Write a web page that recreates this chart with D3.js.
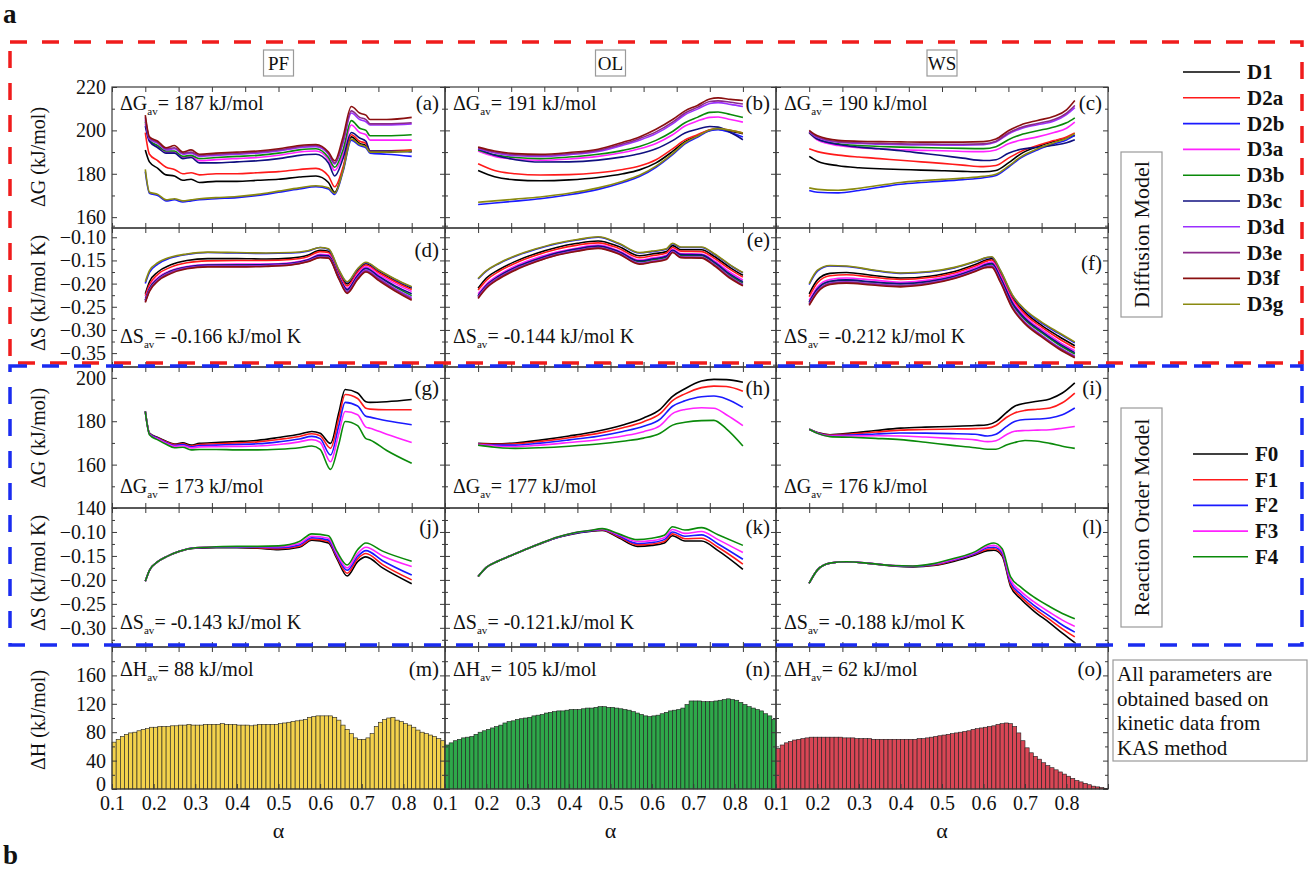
<!DOCTYPE html>
<html>
<head>
<meta charset="utf-8">
<script src="https://cdn.jsdelivr.net/npm/d3@7"></script>
<style>
  body { margin: 0; background: #fff; }
  svg { font-family: "Liberation Serif", "Times New Roman", serif; }
</style>
</head>
<body>
<svg id="fig" width="1312" height="873"></svg>
<script>
/*** DATA ***/
const samples = ["PF", "OL", "WS"];
const diffModels = ["D1", "D2a", "D2b", "D3a", "D3b", "D3c", "D3d", "D3e", "D3f", "D3g"];
const reactModels = ["F0", "F1", "F2", "F3", "F4"];

const dGavDiff = ["187", "191", "190"];
const dSavDiff = ["-0.166", "-0.144", "-0.212"];
const dGavReact = ["173", "177", "176"];
const dSavReact = ["-0.143", "-0.121.", "-0.188"];
const dHav = ["88", "105", "62"];

const xTickLabels = [0.1, 0.2, 0.3, 0.4, 0.5, 0.6, 0.7, 0.8];
const topTicks = [0.10, 0.18, 0.26, 0.34, 0.42, 0.50, 0.58, 0.66, 0.74, 0.82, 0.90];

/* (a) PF, dG, diffusion models: rows follow diffModels */
const alphaA = [0.18,0.19,0.21,0.23,0.25,0.27,0.29,0.31,0.35,0.40,0.45,0.50,0.55,0.59,0.62,0.635,0.655,0.675,0.695,0.71,0.72,0.76,0.82];
const dG_PF_D = [
  [191,185.5,182.5,179.5,179,177,177.5,176,176.5,176.5,177,177.5,178.5,179,176,171.5,182,197,194,193,190,190,190.5],
  [199,189,186,183,182,180,180.5,179.5,180,180,180.5,181,182,182.5,179,174,183,198,195,194,190.5,190.5,191],
  [181,171,170,167.5,168,167,167.5,168,168.5,169,170,171.5,173,174,173,170.5,181,195.5,193,192,189.5,189,188],
  [203,195,192.5,190,190,187.5,188,186,186.5,187,187.5,188.5,190,190.5,186.5,181.5,189,202.5,199,198,195.5,195.5,195.5],
  [204,195.5,193,190.5,190.5,188,188.5,187,187.5,188,188.5,189.5,191,191.5,187.5,183,191,204.5,201,200,197.5,197.5,198],
  [202,195,192,189.5,189.5,187,187.5,185,185,185.5,186,187,188.5,189,185,179,187,199,196.5,195,190.5,190.5,190],
  [205,196,194,191,191.5,189,189.5,188,188.5,189,189.5,190.5,192,192.5,189,184.5,194,208,205,204,202.5,202.5,203],
  [206,196.5,194.5,191.5,192,189.5,190,188.5,189,189.5,190,191,192.5,193,189.5,185,195,209,206,205,203,203,203.5],
  [207,197,195,192,193,190,191,189,189.5,190,190.5,191.5,193,193.5,190,186,197,211,208,207,205,205,206],
  [182,171.5,170.5,168,168.5,167.5,168,168.5,169,169.5,170.5,172,173.5,174.5,173.5,171,181.5,196,193.5,192.5,190,190,190.5]
];

/* (b) OL, dG, diffusion */
const alphaB = [0.18,0.22,0.27,0.33,0.40,0.47,0.53,0.57,0.61,0.65,0.68,0.71,0.74,0.76,0.79,0.82];
const dG_OL_D = [
  [181.5,178.6,177.2,176.8,177.2,178.3,180,181.8,185,190.3,194.8,197.5,200,200.5,199.6,198.5],
  [184.6,181.5,180,179.4,179.6,180.5,182,183.6,186.5,191.5,195.6,198,200.3,200.8,200,198.8],
  [165.8,166.5,167.4,168.5,170.3,172.8,176,178.7,183,188.8,193.8,196.8,199.8,200.3,199,196.9],
  [190.5,188,186.7,186.2,186.8,188,189.8,191.5,194,198,202,204.3,206,206.2,205,203.8],
  [191,188.7,187.5,187,187.7,189,190.8,192.6,195.4,199.5,203.5,206,208.3,208.5,207.3,206],
  [191.5,188.5,186.5,185.4,185.5,186.3,187.8,189.2,191.5,195.3,198.8,200.5,201.8,201.5,199,195.7],
  [191.6,189.6,188.3,188,188.8,190.3,193.2,195.5,198.5,203,207.2,209.8,212.4,212.8,212,211],
  [192,190,188.8,188.5,189.3,190.8,193.8,196.2,199.3,203.8,208,210.6,213.3,213.6,213,212.2],
  [192.3,190.5,189.3,189,189.8,191.3,194.5,197,200.5,205,209,211.5,214.5,215,214.3,213.8],
  [166.9,167.5,168.3,169.3,171,173.5,176.6,179.3,183.5,189.3,194.3,197.3,200.2,200.8,200,198.8]
];

/* (c) WS, dG, diffusion */
const alphaC = [0.18,0.20,0.25,0.30,0.35,0.40,0.45,0.50,0.55,0.60,0.63,0.66,0.69,0.73,0.77,0.80,0.82];
const dG_WS_D = [
  [188,185.8,183.7,182.8,182.3,182,181.7,181.4,181.1,180.9,181.5,185,189.2,192.5,195,196.5,197.7],
  [191.5,190.2,188.6,187.7,187,186.2,185.5,184.8,184,183.3,183.8,187.2,190.3,193,195.3,197,198.8],
  [172.3,171.5,171.2,172.3,173.8,175.2,176,176.6,177.3,178.2,179.2,183,187.3,191,193.8,195.6,197.7],
  [198.8,195.5,193,192,191.5,191.1,190.8,190.6,190.3,190.2,191,193.8,195.5,197,199,201,203.8],
  [199,196,193.8,193,192.6,192.3,192.1,191.9,191.7,191.6,192.5,195.7,198,199.8,201.6,203.5,205.8],
  [199.2,196,193.5,192.3,191.5,190.6,189.5,188.4,187.2,186.1,186.5,189.5,191.3,192.2,193.2,194.3,195.7],
  [199.3,196.7,194.5,194,193.6,193.4,193.3,193.2,193.2,193.4,194.6,198.3,200.8,202.6,204.3,207.3,210.5],
  [199.5,197,194.8,194.3,194,193.8,193.7,193.6,193.6,193.8,195,198.8,201.3,203.2,205,208,211.5],
  [200,197.5,195.4,195,194.8,194.7,194.6,194.6,194.6,194.8,196,199.8,202.5,204.6,206.5,209.5,213.8],
  [173.5,172.8,172.4,173.3,174.7,176,176.8,177.4,178,178.8,179.8,183.5,187.8,191.5,194.3,196.3,198.5]
];

/* (d) PF, dS, diffusion */
const alphaD = [0.18,0.19,0.21,0.24,0.28,0.33,0.40,0.47,0.53,0.57,0.60,0.62,0.645,0.665,0.69,0.71,0.74,0.78,0.82];
const dS_PF_D = [
  [-0.222,-0.196,-0.175,-0.160,-0.150,-0.146,-0.146,-0.147,-0.145,-0.139,-0.128,-0.130,-0.175,-0.201,-0.172,-0.157,-0.173,-0.193,-0.210],
  [-0.226,-0.202,-0.180,-0.165,-0.155,-0.151,-0.150,-0.150,-0.148,-0.142,-0.131,-0.133,-0.178,-0.205,-0.175,-0.160,-0.176,-0.196,-0.213],
  [-0.200,-0.176,-0.158,-0.145,-0.137,-0.133,-0.134,-0.135,-0.134,-0.130,-0.122,-0.126,-0.171,-0.197,-0.169,-0.155,-0.171,-0.191,-0.208],
  [-0.232,-0.208,-0.187,-0.172,-0.163,-0.159,-0.158,-0.158,-0.155,-0.148,-0.137,-0.138,-0.183,-0.210,-0.180,-0.164,-0.180,-0.200,-0.217],
  [-0.236,-0.211,-0.190,-0.174,-0.165,-0.161,-0.160,-0.160,-0.157,-0.150,-0.140,-0.141,-0.186,-0.214,-0.184,-0.168,-0.185,-0.207,-0.226],
  [-0.236,-0.212,-0.190,-0.174,-0.164,-0.160,-0.160,-0.159,-0.156,-0.149,-0.139,-0.140,-0.185,-0.213,-0.183,-0.167,-0.184,-0.205,-0.222],
  [-0.238,-0.214,-0.192,-0.176,-0.166,-0.162,-0.162,-0.161,-0.158,-0.151,-0.142,-0.143,-0.188,-0.217,-0.187,-0.171,-0.188,-0.211,-0.230],
  [-0.239,-0.215,-0.193,-0.177,-0.167,-0.163,-0.163,-0.162,-0.159,-0.152,-0.143,-0.144,-0.189,-0.219,-0.189,-0.173,-0.190,-0.213,-0.233],
  [-0.241,-0.217,-0.195,-0.179,-0.168,-0.164,-0.164,-0.163,-0.160,-0.153,-0.144,-0.145,-0.190,-0.221,-0.191,-0.175,-0.193,-0.216,-0.236],
  [-0.196,-0.172,-0.155,-0.143,-0.136,-0.132,-0.133,-0.134,-0.133,-0.129,-0.122,-0.125,-0.170,-0.196,-0.168,-0.154,-0.170,-0.190,-0.207]
];

/* (e) OL, dS, diffusion */
const alphaE = [0.18,0.20,0.23,0.27,0.32,0.37,0.42,0.47,0.52,0.57,0.60,0.635,0.65,0.67,0.72,0.75,0.79,0.82];
const dS_OL_D = [
  [-0.210,-0.188,-0.170,-0.152,-0.135,-0.122,-0.113,-0.108,-0.120,-0.140,-0.136,-0.131,-0.118,-0.127,-0.127,-0.141,-0.166,-0.182],
  [-0.214,-0.193,-0.174,-0.156,-0.139,-0.126,-0.117,-0.112,-0.124,-0.144,-0.140,-0.134,-0.122,-0.130,-0.131,-0.145,-0.170,-0.186],
  [-0.190,-0.173,-0.157,-0.141,-0.126,-0.114,-0.106,-0.100,-0.114,-0.134,-0.131,-0.126,-0.114,-0.122,-0.122,-0.136,-0.161,-0.177],
  [-0.222,-0.201,-0.181,-0.162,-0.145,-0.132,-0.123,-0.117,-0.129,-0.149,-0.145,-0.139,-0.126,-0.135,-0.136,-0.150,-0.176,-0.192],
  [-0.227,-0.205,-0.185,-0.166,-0.149,-0.135,-0.126,-0.120,-0.132,-0.153,-0.149,-0.143,-0.129,-0.139,-0.140,-0.155,-0.183,-0.199],
  [-0.226,-0.204,-0.184,-0.165,-0.148,-0.134,-0.125,-0.119,-0.131,-0.151,-0.147,-0.141,-0.128,-0.137,-0.138,-0.153,-0.180,-0.196],
  [-0.229,-0.207,-0.187,-0.168,-0.151,-0.137,-0.128,-0.122,-0.134,-0.156,-0.152,-0.146,-0.131,-0.142,-0.143,-0.158,-0.186,-0.202],
  [-0.230,-0.208,-0.188,-0.169,-0.152,-0.138,-0.129,-0.123,-0.135,-0.157,-0.153,-0.147,-0.132,-0.143,-0.144,-0.159,-0.187,-0.203],
  [-0.232,-0.210,-0.190,-0.171,-0.153,-0.139,-0.130,-0.124,-0.136,-0.158,-0.154,-0.148,-0.133,-0.144,-0.145,-0.161,-0.189,-0.205],
  [-0.189,-0.172,-0.156,-0.140,-0.125,-0.113,-0.105,-0.099,-0.113,-0.133,-0.130,-0.125,-0.113,-0.121,-0.121,-0.135,-0.160,-0.176]
];

/* (f) WS, dS, diffusion */
const alphaF = [0.18,0.20,0.23,0.27,0.33,0.40,0.47,0.53,0.58,0.61,0.62,0.64,0.67,0.70,0.74,0.78,0.82];
const dS_WS_D = [
  [-0.222,-0.192,-0.178,-0.176,-0.182,-0.188,-0.184,-0.174,-0.159,-0.148,-0.146,-0.174,-0.230,-0.262,-0.290,-0.313,-0.334],
  [-0.228,-0.198,-0.183,-0.181,-0.186,-0.191,-0.187,-0.177,-0.162,-0.151,-0.149,-0.178,-0.233,-0.266,-0.294,-0.318,-0.339],
  [-0.202,-0.173,-0.162,-0.163,-0.171,-0.178,-0.175,-0.166,-0.153,-0.144,-0.143,-0.171,-0.226,-0.258,-0.285,-0.307,-0.328],
  [-0.236,-0.207,-0.191,-0.188,-0.192,-0.197,-0.192,-0.181,-0.166,-0.155,-0.153,-0.182,-0.238,-0.271,-0.299,-0.324,-0.345],
  [-0.241,-0.212,-0.196,-0.193,-0.197,-0.201,-0.196,-0.185,-0.170,-0.159,-0.158,-0.188,-0.245,-0.278,-0.306,-0.331,-0.352],
  [-0.240,-0.211,-0.195,-0.192,-0.196,-0.200,-0.195,-0.184,-0.169,-0.158,-0.156,-0.186,-0.242,-0.275,-0.303,-0.328,-0.349],
  [-0.244,-0.216,-0.199,-0.196,-0.200,-0.204,-0.198,-0.187,-0.172,-0.162,-0.161,-0.192,-0.250,-0.283,-0.311,-0.336,-0.356],
  [-0.245,-0.217,-0.200,-0.197,-0.201,-0.205,-0.199,-0.188,-0.173,-0.163,-0.163,-0.194,-0.252,-0.285,-0.313,-0.338,-0.358],
  [-0.247,-0.219,-0.202,-0.199,-0.203,-0.207,-0.201,-0.189,-0.174,-0.165,-0.165,-0.196,-0.254,-0.287,-0.315,-0.340,-0.360],
  [-0.200,-0.171,-0.161,-0.162,-0.170,-0.177,-0.174,-0.165,-0.152,-0.143,-0.142,-0.170,-0.225,-0.256,-0.283,-0.305,-0.326]
];

/* (g) PF, dG, reaction order models: rows follow reactModels */
const alphaG = [0.18,0.19,0.21,0.23,0.25,0.27,0.29,0.31,0.35,0.40,0.45,0.50,0.55,0.58,0.60,0.625,0.645,0.66,0.69,0.71,0.72,0.76,0.82];
const dG_PF_F = [
  [184.5,174.5,172.5,170.8,169.5,170,169,169.8,170.2,170.6,171.2,172.5,174,175.3,174.5,169.8,184,194.6,193,189,188.7,189,190],
  [184.5,174.3,172.3,170.5,169.2,169.6,168.6,169.3,169.6,170,170.5,171.6,173,174.2,173.3,167.5,181.5,192.3,190.5,186,185.6,185.3,185.3],
  [184.5,174.2,172.1,170.2,168.8,169.2,168.2,168.8,169,169.3,169.6,170.5,171.8,173,172,164.4,178,188.7,187,182.3,181.9,180.2,178.4],
  [184.5,174,171.8,169.9,168.4,168.7,167.7,168.2,168.3,168.4,168.6,169.3,170.5,171.5,170.3,161.3,174.5,184.5,183,177.3,176.8,174,170.2],
  [184.5,173.8,171.4,169.4,167.8,168,166.8,167,167,166.8,166.8,167.1,167.8,168.6,167,157.8,169.5,179.9,178,172,171.4,166.5,160.6]
];

/* (h) OL, dG, reaction */
const alphaH = [0.18,0.22,0.27,0.33,0.40,0.47,0.53,0.58,0.62,0.65,0.68,0.72,0.75,0.78,0.82];
const dG_OL_F = [
  [169.8,169.6,170,171.3,173.2,175.5,178.3,181.5,185.5,191.5,195,198.5,199.3,199.2,198],
  [169.6,169.4,169.6,170.7,172.4,174.4,177,179.8,183.5,189.5,192.6,195.5,196.2,196,193.8],
  [169.4,169,169,169.9,171.4,173.1,175.3,177.7,181,186.9,189.4,191.3,191.6,190.3,186.4],
  [169.2,168.6,168.3,169,170.2,171.5,173.2,175.2,178,183.5,185.4,186.2,186,183,178],
  [169,168,167.5,167.8,168.5,169.5,170.8,172.2,174.5,178.2,179.5,180.3,180.4,176.5,168.6]
];

/* (i) WS, dG, reaction */
const alphaI = [0.18,0.20,0.23,0.28,0.34,0.40,0.46,0.52,0.58,0.61,0.63,0.655,0.675,0.70,0.73,0.76,0.79,0.82];
const dG_WS_F = [
  [176.3,174.8,173.8,174.5,175.7,176.8,177.3,177.6,178,178.4,179.8,184,186.9,188.3,189.2,190.3,193,197.7],
  [176.3,174.7,173.6,174.1,175,175.9,176.2,176.4,176.6,176.8,178,181.7,183.8,185,185.5,186.1,188.5,193],
  [176.3,174.6,173.4,173.6,174.1,174.6,174.5,174.3,174,173.2,174,177.5,179.9,180.8,181,181.5,183,186.1],
  [176.3,174.5,173.2,173.2,173.3,173.2,172.7,172.1,171.4,170.6,171,173.8,175.4,175.7,175.9,176.1,176.8,177.6],
  [176.3,174.4,172.9,172.6,172.1,171.5,170.3,169,167.8,167.1,167.1,169,170.2,171.1,170.8,169.8,168.5,167.5]
];

/* (j) PF, dS, reaction */
const alphaJ = [0.18,0.19,0.21,0.23,0.26,0.30,0.35,0.40,0.45,0.50,0.55,0.58,0.62,0.64,0.665,0.69,0.71,0.75,0.82];
const dS_PF_F = [
  [-0.203,-0.180,-0.162,-0.152,-0.141,-0.134,-0.133,-0.133,-0.134,-0.137,-0.132,-0.117,-0.123,-0.155,-0.192,-0.162,-0.152,-0.175,-0.208],
  [-0.203,-0.180,-0.162,-0.152,-0.141,-0.133,-0.132,-0.132,-0.133,-0.135,-0.130,-0.115,-0.120,-0.152,-0.186,-0.156,-0.145,-0.168,-0.200],
  [-0.203,-0.180,-0.162,-0.152,-0.141,-0.133,-0.132,-0.132,-0.132,-0.133,-0.127,-0.112,-0.117,-0.149,-0.180,-0.151,-0.139,-0.160,-0.190],
  [-0.203,-0.180,-0.162,-0.152,-0.141,-0.133,-0.131,-0.131,-0.131,-0.131,-0.124,-0.109,-0.113,-0.145,-0.175,-0.145,-0.132,-0.150,-0.172],
  [-0.203,-0.180,-0.162,-0.152,-0.141,-0.133,-0.131,-0.130,-0.130,-0.129,-0.120,-0.104,-0.108,-0.140,-0.169,-0.137,-0.123,-0.140,-0.161]
];

/* (k) OL, dS, reaction */
const alphaK = [0.18,0.20,0.23,0.26,0.29,0.33,0.37,0.41,0.45,0.48,0.52,0.565,0.60,0.63,0.65,0.68,0.72,0.76,0.82];
const dS_OL_F = [
  [-0.193,-0.174,-0.160,-0.149,-0.138,-0.125,-0.112,-0.104,-0.099,-0.097,-0.112,-0.130,-0.128,-0.123,-0.108,-0.119,-0.119,-0.139,-0.178],
  [-0.193,-0.174,-0.160,-0.149,-0.138,-0.124,-0.112,-0.103,-0.098,-0.096,-0.110,-0.127,-0.125,-0.120,-0.104,-0.114,-0.113,-0.132,-0.167],
  [-0.193,-0.174,-0.160,-0.149,-0.138,-0.124,-0.112,-0.103,-0.098,-0.095,-0.108,-0.124,-0.122,-0.116,-0.100,-0.109,-0.106,-0.125,-0.157],
  [-0.193,-0.174,-0.160,-0.149,-0.138,-0.124,-0.111,-0.102,-0.097,-0.094,-0.106,-0.120,-0.118,-0.112,-0.095,-0.103,-0.099,-0.116,-0.143],
  [-0.193,-0.174,-0.160,-0.149,-0.138,-0.124,-0.111,-0.102,-0.097,-0.093,-0.104,-0.116,-0.113,-0.107,-0.089,-0.096,-0.091,-0.106,-0.128]
];

/* (l) WS, dS, reaction */
const alphaL = [0.18,0.20,0.23,0.27,0.33,0.38,0.43,0.48,0.53,0.58,0.61,0.625,0.645,0.665,0.69,0.72,0.76,0.79,0.82];
const dS_WS_F = [
  [-0.207,-0.179,-0.165,-0.162,-0.166,-0.171,-0.173,-0.170,-0.161,-0.148,-0.139,-0.138,-0.150,-0.213,-0.240,-0.264,-0.290,-0.311,-0.331],
  [-0.207,-0.179,-0.165,-0.162,-0.166,-0.170,-0.172,-0.169,-0.159,-0.146,-0.136,-0.135,-0.147,-0.209,-0.235,-0.258,-0.283,-0.302,-0.319],
  [-0.207,-0.179,-0.165,-0.162,-0.166,-0.170,-0.172,-0.168,-0.158,-0.145,-0.133,-0.132,-0.144,-0.205,-0.230,-0.252,-0.276,-0.294,-0.309],
  [-0.207,-0.179,-0.165,-0.162,-0.166,-0.170,-0.171,-0.167,-0.157,-0.143,-0.130,-0.128,-0.140,-0.200,-0.224,-0.245,-0.268,-0.284,-0.297],
  [-0.207,-0.179,-0.165,-0.162,-0.166,-0.170,-0.171,-0.166,-0.155,-0.141,-0.126,-0.123,-0.135,-0.193,-0.215,-0.235,-0.256,-0.270,-0.281]
];

/* (m)(n)(o) enthalpy bars, one per 0.01 of conversion */
const alphaBars = [0.10,0.11,0.12,0.13,0.14,0.15,0.16,0.17,0.18,0.19,0.20,0.21,0.22,0.23,0.24,0.25,0.26,0.27,0.28,0.29,
  0.30,0.31,0.32,0.33,0.34,0.35,0.36,0.37,0.38,0.39,0.40,0.41,0.42,0.43,0.44,0.45,0.46,0.47,0.48,0.49,
  0.50,0.51,0.52,0.53,0.54,0.55,0.56,0.57,0.58,0.59,0.60,0.61,0.62,0.63,0.64,0.65,0.66,0.67,0.68,0.69,
  0.70,0.71,0.72,0.73,0.74,0.75,0.76,0.77,0.78,0.79,0.80,0.81,0.82,0.83,0.84,0.85,0.86,0.87,0.88,0.89];
const dH_PF = [66,70,74,77,79,80,82,84,85,87, 87,88,88,88,89,89,90,90,91,90,
  90,90,91,91,91,91,92,91,91,91, 90,90,90,89,90,91,91,91,91,91,
  92,93,94,95,96,97,98,101,102,103, 103,103,103,101,97,90,84,78,72,70,
  70,72,78,88,94,98,100,101,97,95, 92,90,87,83,80,78,76,74,71,68];
const dH_OL = [62,65,68,70,72,73,74,77,80,82, 84,86,88,90,93,95,96,98,99,100,
  101,103,104,105,107,108,109,110,110,111, 112,112,112,113,114,114,115,116,116,115,
  115,114,113,112,111,109,107,105,103,102, 103,104,106,108,110,111,112,114,119,124,
  124,124,123,123,123,124,125,126,127,126, 125,122,119,116,114,112,110,106,103,98];
const dH_WS = [57,62,65,67,69,70,71,72,73,73, 73,73,73,73,73,73,72,72,72,71,
  71,71,71,70,70,70,70,70,70,70, 70,70,70,70,71,71,72,73,74,75,
  76,77,78,79,80,81,82,84,85,86, 87,88,89,91,92,93,92,88,79,68,
  58,51,46,42,37,33,30,27,24,21, 18,15,12,10,8,6,4,3,2,1];

/*** STYLE ***/
const diffColors = ["#000000", "#ff1a1a", "#1a1aff", "#ff22ff", "#0a8a0a", "#101080", "#9b30ff", "#8a2a8a", "#8a1010", "#8a8a10"];
const reactColors = ["#000000", "#ff1a1a", "#1a1aff", "#ff22ff", "#0a8a0a"];
const barColors = ["#f3d24c", "#2ea84a", "#d94655"];
const SERIF = "'Liberation Serif', 'Times New Roman', serif";

const svg = d3.select("#fig");
const colX = [112, 445, 776, 1108];
const rowY = [87, 228, 367, 508, 647, 789];

/* one plot frame with Origin-style inward ticks */
function makePanel(col, row, yDomain, yMajor, yMinor, yFmt) {
  const p = {
    col, row,
    x0: colX[col], x1: colX[col + 1], y0: rowY[row], y1: rowY[row + 1]
  };
  p.x = d3.scaleLinear().domain([0.1, 0.9]).range([p.x0, p.x1]);
  p.y = d3.scaleLinear().domain(yDomain).range([p.y1, p.y0]);
  p.g = svg.append("g");
  p.yMajor = yMajor; p.yMinor = yMinor; p.yFmt = yFmt;
  return p;
}

function drawFrame(p) {
  const g = p.g;
  g.append("rect")
    .attr("x", p.x0).attr("y", p.y0)
    .attr("width", p.x1 - p.x0).attr("height", p.y1 - p.y0)
    .attr("fill", "none").attr("stroke", "#3a3a3a").attr("stroke-width", 1.2);

  const put = (axis, tx, ty) => {
    const a = g.append("g").attr("transform", `translate(${tx},${ty})`).call(axis);
    a.select(".domain").remove();
    a.selectAll("line").attr("stroke", "#3a3a3a");
    a.selectAll("text").attr("fill", "#111").style("font-size", "20px")
      .style("font-family", SERIF);
    return a;
  };

  const left = put(d3.axisLeft(p.y).tickValues(p.yMajor).tickSize(-5).tickPadding(6)
    .tickFormat(p.col === 0 ? p.yFmt : () => ""), p.x0, 0);
  /* the zero label of the bar row sits a little high, as in the original */
  if (p.row === 4) left.selectAll("text").filter(d => d === 0).attr("dy", "0.05em");
  put(d3.axisLeft(p.y).tickValues(p.yMinor).tickSize(-3).tickFormat(""), p.x0, 0);
  put(d3.axisRight(p.y).tickValues(p.yMajor).tickSize(-5).tickFormat(""), p.x1, 0);
  put(d3.axisRight(p.y).tickValues(p.yMinor).tickSize(-3).tickFormat(""), p.x1, 0);
  put(d3.axisTop(p.x).tickValues(topTicks).tickSize(-5).tickFormat(""), 0, p.y0);

  if (p.row === 4) {
    put(d3.axisBottom(p.x).tickValues(xTickLabels).tickSize(-5).tickPadding(7)
      .tickFormat(d3.format(".1f")), 0, p.y1);
    put(d3.axisBottom(p.x).tickValues([0.9]).tickSize(-5).tickFormat(""), 0, p.y1);
  } else {
    put(d3.axisBottom(p.x).tickValues(topTicks).tickSize(-5).tickFormat(""), 0, p.y1);
  }
}

function drawLines(p, alpha, series, colors) {
  const line = d3.line()
    .x((d, i) => p.x(alpha[i]))
    .y(d => p.y(d))
    .curve(d3.curveMonotoneX);
  p.g.selectAll("path.series")
    .data(series)
    .join("path")
    .attr("class", "series")
    .attr("d", line)
    .attr("fill", "none")
    .attr("stroke", (d, i) => colors[i])
    .attr("stroke-width", 1.6);
}

function drawBars(p, values, fill) {
  p.g.selectAll("rect.bar")
    .data(values)
    .join("rect")
    .attr("class", "bar")
    .attr("x", (d, i) => p.x(alphaBars[i]))
    .attr("width", (d, i) => p.x(alphaBars[i] + 0.01) - p.x(alphaBars[i]))
    .attr("y", d => p.y(d))
    .attr("height", d => p.y(0) - p.y(d))
    .attr("fill", fill)
    .attr("stroke", "#1e1e1e")
    .attr("stroke-width", 0.6);
}

/* "ΔG_av = 187 kJ/mol" style annotation */
function note(p, baseline, sym, value, unit) {
  const t = p.g.append("text")
    .attr("x", p.x0 + 8).attr("y", baseline)
    .style("font-size", "20px").style("font-family", SERIF).attr("fill", "#111");
  t.append("tspan").text(sym);
  t.append("tspan").attr("dy", 5).style("font-size", "11px").text("av");
  t.append("tspan").attr("dy", -5).text("= " + value + (value.endsWith(".") ? "" : " ") + unit);
}

function tag(p, baseline, letter) {
  p.g.append("text")
    .attr("x", p.x1 - 6).attr("y", baseline)
    .attr("text-anchor", "end")
    .style("font-size", "21px").style("font-family", SERIF).attr("fill", "#111")
    .text("(" + letter + ")");
}

const fmt0 = d3.format("d");
const fmt2 = d3.format(".2f");
const gMajor1 = [160, 180, 200, 220], gMinor1 = [170, 190, 210];
const sMajor1 = [-0.35, -0.30, -0.25, -0.20, -0.15, -0.10];
const sMinor1 = [-0.375, -0.325, -0.275, -0.225, -0.175, -0.125, -0.075];
const gMajor2 = [140, 160, 180, 200], gMinor2 = [150, 170, 190];
const sMajor2 = [-0.30, -0.25, -0.20, -0.15, -0.10];
const sMinor2 = [-0.325, -0.275, -0.225, -0.175, -0.125, -0.075];
const hMajor = [0, 40, 80, 120, 160], hMinor = [20, 60, 100, 140, 180];

const gDiff = [dG_PF_D, dG_OL_D, dG_WS_D], gDiffA = [alphaA, alphaB, alphaC];
const sDiff = [dS_PF_D, dS_OL_D, dS_WS_D], sDiffA = [alphaD, alphaE, alphaF];
const gReact = [dG_PF_F, dG_OL_F, dG_WS_F], gReactA = [alphaG, alphaH, alphaI];
const sReact = [dS_PF_F, dS_OL_F, dS_WS_F], sReactA = [alphaJ, alphaK, alphaL];
const dHs = [dH_PF, dH_OL, dH_WS];
const letters = ["abc", "def", "ghi", "jkl", "mno"];
const sTagY = [257, 247, 270];

for (let c = 0; c < 3; c++) {
  const pa = makePanel(c, 0, [155, 220], gMajor1, gMinor1, fmt0);
  drawLines(pa, gDiffA[c], gDiff[c], diffColors);
  drawFrame(pa);
  note(pa, 110, "ΔG", dGavDiff[c], "kJ/mol");
  tag(pa, 110, letters[0][c]);

  const pd = makePanel(c, 1, [-0.38, -0.08], sMajor1, sMinor1, fmt2);
  drawLines(pd, sDiffA[c], sDiff[c], diffColors);
  drawFrame(pd);
  note(pd, 343, "ΔS", dSavDiff[c], "kJ/mol K");
  tag(pd, sTagY[c], letters[1][c]);

  const pg = makePanel(c, 2, [140, 205], gMajor2, gMinor2, fmt0);
  drawLines(pg, gReactA[c], gReact[c], reactColors);
  drawFrame(pg);
  note(pg, 493, "ΔG", dGavReact[c], "kJ/mol");
  tag(pg, 395, letters[2][c]);

  const pj = makePanel(c, 3, [-0.34, -0.05], sMajor2, sMinor2, fmt2);
  drawLines(pj, sReactA[c], sReact[c], reactColors);
  drawFrame(pj);
  note(pj, 629, "ΔS", dSavReact[c], "kJ/mol K");
  tag(pj, 534, letters[3][c]);

  const pm = makePanel(c, 4, [0, 200], hMajor, hMinor, fmt0);
  drawBars(pm, dHs[c], barColors[c]);
  drawFrame(pm);
  note(pm, 676, "ΔH", dHav[c], "kJ/mol");
  tag(pm, 676, letters[4][c]);

  /* column header and x title */
  const cx = (colX[c] + colX[c + 1]) / 2;
  svg.append("rect").attr("x", cx - 15).attr("y", 50).attr("width", 30).attr("height", 26)
    .attr("fill", "#fff").attr("stroke", "#9a9a9a").attr("stroke-width", 1.2);
  svg.append("text").attr("x", cx).attr("y", 70).attr("text-anchor", "middle")
    .style("font-size", "19px").attr("fill", "#111").text(samples[c]);
  svg.append("text").attr("x", cx).attr("y", 838).attr("text-anchor", "middle")
    .style("font-size", "22px").attr("fill", "#111").text("α");
}

/* y titles */
const yTitles = [["ΔG (kJ/mol)", 157], ["ΔS (kJ/mol K)", 293], ["ΔG (kJ/mol)", 438], ["ΔS (kJ/mol K)", 573], ["ΔH  (kJ/mol)", 720]];
yTitles.forEach(([t, cy]) => {
  svg.append("text")
    .attr("transform", `translate(45,${cy}) rotate(-90)`)
    .attr("text-anchor", "middle")
    .style("font-size", "20px").attr("fill", "#111")
    .text(t);
});

/* legends */
function legend(names, colors, lx0, lx1, ty, y0, step) {
  names.forEach((n, i) => {
    const yy = y0 + i * step;
    svg.append("line").attr("x1", lx0).attr("x2", lx1).attr("y1", yy).attr("y2", yy)
      .attr("stroke", colors[i]).attr("stroke-width", 1.6);
    svg.append("text").attr("x", ty).attr("y", yy + 7)
      .style("font-size", "21px").style("font-weight", "bold").attr("fill", "#111").text(n);
  });
}
legend(diffModels, diffColors, 1183, 1240, 1247, 72, 25.8);
legend(reactModels, reactColors, 1193, 1248, 1255, 454, 25.7);

function sideBox(label, y0, y1) {
  svg.append("rect").attr("x", 1121).attr("y", y0).attr("width", 41).attr("height", y1 - y0)
    .attr("fill", "#fff").attr("stroke", "#9a9a9a").attr("stroke-width", 1.2);
  svg.append("text")
    .attr("transform", `translate(1149,${(y0 + y1) / 2}) rotate(-90)`)
    .attr("text-anchor", "middle")
    .style("font-size", "22px").attr("fill", "#111").text(label);
}
sideBox("Diffusion Model", 152, 317);
sideBox("Reaction Order Model", 408, 627);

/* note box */
svg.append("rect").attr("x", 1113).attr("y", 660).attr("width", 194).attr("height", 101)
  .attr("fill", "#fff").attr("stroke", "#9a9a9a").attr("stroke-width", 1.2);
["All parameters are", "obtained based on", "kinetic data from", "KAS method"].forEach((t, i) => {
  svg.append("text").attr("x", 1117).attr("y", 681 + i * 24.5)
    .style("font-size", "21px").attr("fill", "#111").text(t);
});

/* dashed group outlines */
svg.append("rect").attr("x", 10).attr("y", 42).attr("width", 1292).attr("height", 321)
  .attr("fill", "none").attr("stroke", "#f01c1c").attr("stroke-width", 3.5)
  .attr("stroke-dasharray", "17,15");
svg.append("rect").attr("x", 10).attr("y", 366).attr("width", 1292).attr("height", 279)
  .attr("fill", "none").attr("stroke", "#1a2cf0").attr("stroke-width", 3.5)
  .attr("stroke-dasharray", "17,15");

/* figure part letters */
svg.append("text").attr("x", 3).attr("y", 23).style("font-size", "27px")
  .style("font-family", SERIF).style("font-weight", "bold").attr("fill", "#111").text("a");
svg.append("text").attr("x", 3).attr("y", 864).style("font-size", "27px")
  .style("font-family", SERIF).style("font-weight", "bold").attr("fill", "#111").text("b");
</script>
</body>
</html>
